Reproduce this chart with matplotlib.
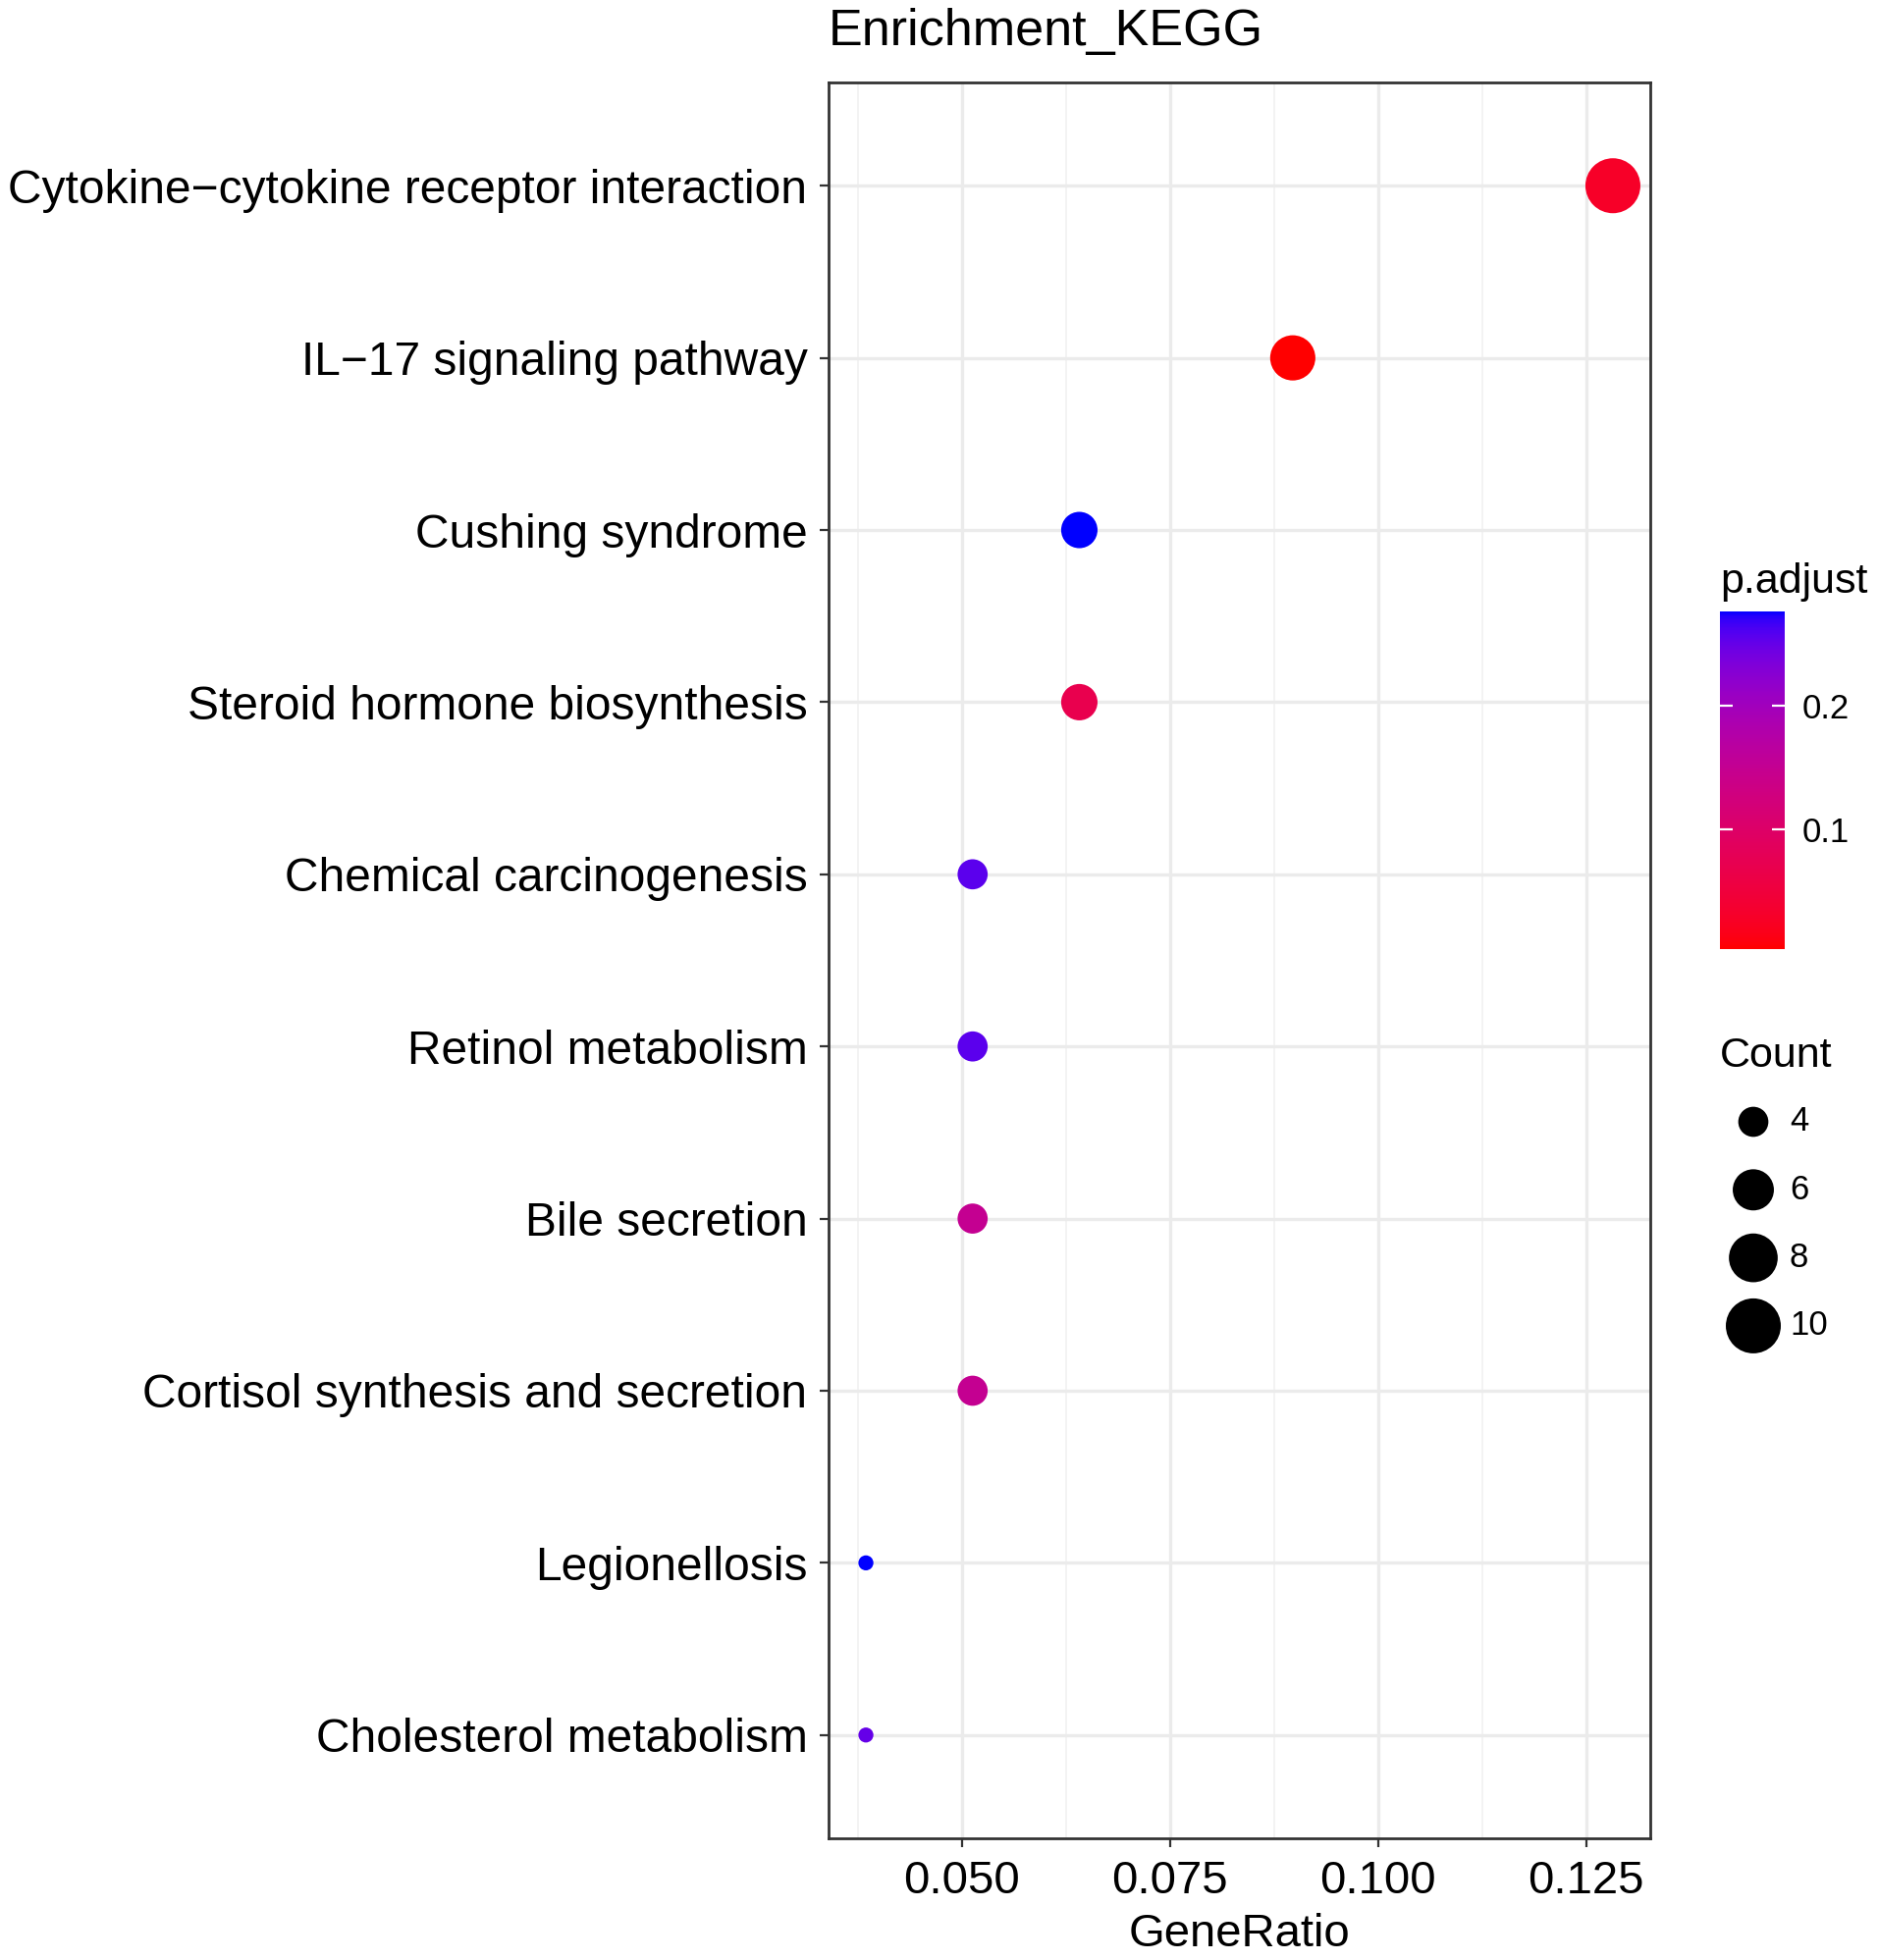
import numpy as np
import matplotlib
matplotlib.use("Agg")
import matplotlib.pyplot as plt
from matplotlib.colors import ListedColormap, Normalize
from matplotlib.cm import ScalarMappable

plt.rcParams['font.family'] = ['Liberation Sans', 'DejaVu Sans']

# ---------------- data ----------------
terms = ["Cytokine\u2212cytokine receptor interaction", "IL\u221217 signaling pathway",
         "Cushing syndrome", "Steroid hormone biosynthesis", "Chemical carcinogenesis",
         "Retinol metabolism", "Bile secretion", "Cortisol synthesis and secretion",
         "Legionellosis", "Cholesterol metabolism"]
counts = [10, 7, 5, 5, 4, 4, 4, 4, 3, 3]
total_genes = 78
gene_ratio = [c / total_genes for c in counts]
p_adjust = [0.03, 0.0039, 0.2756, 0.07, 0.255, 0.255, 0.15, 0.15, 0.2756, 0.25]
xticks = [0.050, 0.075, 0.100, 0.125]
xtick_labels = ["0.050", "0.075", "0.100", "0.125"]
cbar_ticks = [0.1, 0.2]
size_breaks = [4, 6, 8, 10]

# ---------------- Lab gradient red -> blue (ggplot style) ----------------
M = np.array([[0.4124564, 0.3575761, 0.1804375],
              [0.2126729, 0.7151522, 0.0721750],
              [0.0193339, 0.1191920, 0.9503041]])
WHITE = np.array([0.95047, 1.0, 1.08883])

def srgb_to_lab(rgb):
    rgb = np.asarray(rgb, float)
    lin = np.where(rgb <= 0.04045, rgb / 12.92, ((rgb + 0.055) / 1.055) ** 2.4)
    xyz = M @ lin / WHITE
    f = np.where(xyz > 0.008856, np.cbrt(xyz), 7.787 * xyz + 16 / 116)
    return np.array([116 * f[1] - 16, 500 * (f[0] - f[1]), 200 * (f[1] - f[2])])

def lab_to_srgb(lab):
    L, a, b = lab
    fy = (L + 16) / 116
    fx = fy + a / 500
    fz = fy - b / 200
    f = np.array([fx, fy, fz])
    xyz = np.where(f ** 3 > 0.008856, f ** 3, (f - 16 / 116) / 7.787) * WHITE
    lin = np.linalg.solve(M, xyz)
    lin = np.clip(lin, 0, 1)
    rgb = np.where(lin <= 0.0031308, 12.92 * lin, 1.055 * lin ** (1 / 2.4) - 0.055)
    return np.clip(rgb, 0, 1)

lab_lo = srgb_to_lab([1, 0, 0])
lab_hi = srgb_to_lab([0, 0, 1])
cols = [lab_to_srgb(lab_lo + t * (lab_hi - lab_lo)) for t in np.linspace(0, 1, 256)]
cmap = ListedColormap(cols)
norm = Normalize(vmin=min(p_adjust), vmax=max(p_adjust))

# size scale (area-like, ggplot scale_size)
DPI = 100
cmin, cmax = min(counts), max(counts)
def diam_pt(c):
    d_px = 15.3 + 40.7 * np.sqrt((c - cmin) / (cmax - cmin))
    return d_px * 72 / DPI

# ---------------- figure ----------------
W, H = 1913, 1997
fig = plt.figure(figsize=(W / DPI, H / DPI), dpi=DPI)

ax_l, ax_r, ax_t, ax_b = 844, 1681, 84, 1873
ax = fig.add_axes([ax_l / W, (H - ax_b) / H, (ax_r - ax_l) / W, (ax_b - ax_t) / H])

ypos = np.arange(len(terms))[::-1]
ax.set_ylim(-0.6, len(terms) - 1 + 0.6)
xr = max(gene_ratio) - min(gene_ratio)
ax.set_xlim(min(gene_ratio) - 0.05 * xr, max(gene_ratio) + 0.05 * xr)

# grid
ax.set_axisbelow(True)
minor = [(xticks[i] + xticks[i + 1]) / 2 for i in range(len(xticks) - 1)]
minor = [xticks[0] - 0.0125] + minor
ax.set_xticks(minor, minor=True)
ax.grid(which='major', axis='both', color='#EBEBEB', linewidth=2.4)
ax.grid(which='minor', axis='x', color='#F2F2F2', linewidth=1.3)
ax.tick_params(which='minor', length=0)

sizes = [diam_pt(c) ** 2 for c in counts]
ax.scatter(gene_ratio, ypos, s=sizes, c=p_adjust, cmap=cmap, norm=norm,
           edgecolors='none', zorder=3)

ax.set_yticks(ypos)
ax.set_yticklabels(terms, fontsize=34.5)
ax.set_xticks(xticks)
ax.set_xticklabels(xtick_labels, fontsize=34)
ax.tick_params(which='major', length=6.5, width=1.6, color='#333333',
               labelcolor='black', pad=9)
for sp in ax.spines.values():
    sp.set_color('#333333')
    sp.set_linewidth(2.0)

ax.set_xlabel("GeneRatio", fontsize=34)
ax.xaxis.set_label_coords(0.5, -(1971 - ax_b) / (ax_b - ax_t))
ax.xaxis.label.set_va('center')

fig.text(ax_l / W, 1 - 32 / H, "Enrichment_KEGG", fontsize=37.5, ha='left', va='center')

# ---------------- colorbar ----------------
cb_l, cb_r, cb_t, cb_b = 1752, 1818, 623, 967
cax = fig.add_axes([cb_l / W, (H - cb_b) / H, (cb_r - cb_l) / W, (cb_b - cb_t) / H])
cb = fig.colorbar(ScalarMappable(norm=norm, cmap=cmap), cax=cax)
cb.outline.set_visible(False)
cb.set_ticks(cbar_ticks)
cb.set_ticklabels([f"{t:.1f}" for t in cbar_ticks])
cax.tick_params(length=0, labelsize=25, pad=12.5)
tr = cax.get_yaxis_transform()
cax.hlines(cbar_ticks, 0, 0.2, colors='white', linewidth=1.6, transform=tr)
cax.hlines(cbar_ticks, 0.8, 1.0, colors='white', linewidth=1.6, transform=tr)
fig.text(cb_l / W, 1 - 593 / H, "p.adjust", fontsize=31, ha='left', va='center')

# ---------------- size legend ----------------
fig.text(cb_l / W, 1 - 1076 / H, "Count", fontsize=31, ha='left', va='center')
row_gap = 69.3
lg_t = 1143 - row_gap / 2
lg_b = lg_t + row_gap * len(size_breaks)
lax = fig.add_axes([1740 / W, (H - lg_b) / H, 160 / W, (lg_b - lg_t) / H])
lax.set_xlim(1740, 1900)
lax.set_ylim(len(size_breaks) - 0.5, -0.5)
lax.axis('off')
lax.scatter([1786] * len(size_breaks), range(len(size_breaks)),
            s=[diam_pt(c) ** 2 for c in size_breaks], c='black', edgecolors='none')
for i, c in enumerate(size_breaks):
    lax.text(1823, i, str(c), fontsize=25, ha='left', va='center')

fig.savefig("out.png", dpi=DPI)
